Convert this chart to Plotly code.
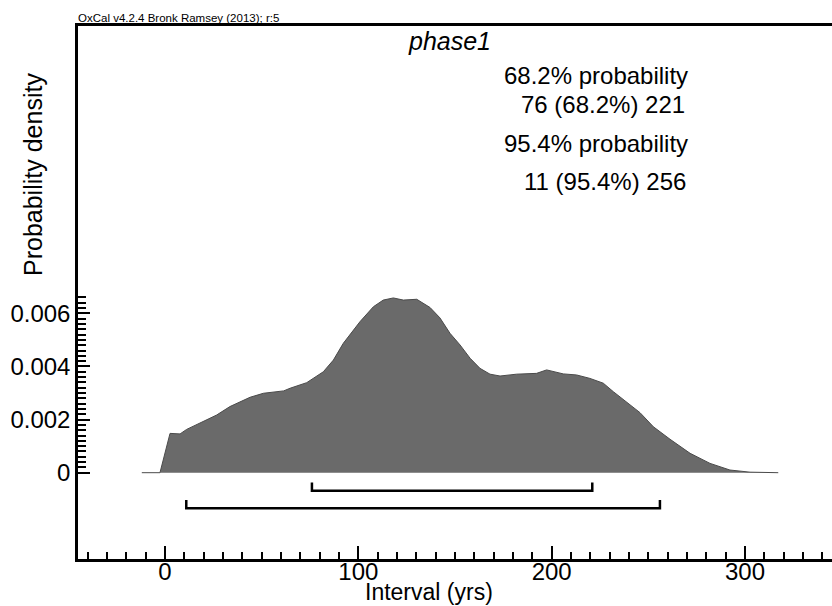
import plotly.graph_objects as go

# Density curve (interval in years, probability density)
interval_yrs = [-12, -2.6, 2.6, 7.8, 11.2, 18.1, 26.7, 33.6, 44, 50.9, 61.4, 64.7, 73.3, 81.9, 87.1,
                92.2, 100.9, 107.8, 112.9, 118.1, 123.3, 130.2, 137.1, 142.2, 147.4, 152.6, 157.8,
                162.9, 168.1, 173.3, 181.9, 192.2, 197.4, 206, 212.9, 219.8, 226.7, 231.9, 238.8,
                245.7, 252.6, 261.2, 271.6, 281.9, 292.2, 302.6, 317.2]
density = [0, 0, 0.00148, 0.00146, 0.00163, 0.00186, 0.00217, 0.00249, 0.00284, 0.00299, 0.00308,
           0.00318, 0.00339, 0.00380, 0.00424, 0.00487, 0.00569, 0.00625, 0.00650, 0.00658, 0.00650,
           0.00653, 0.00622, 0.00583, 0.00525, 0.00481, 0.00431, 0.00393, 0.00371, 0.00364, 0.00371,
           0.00374, 0.00387, 0.00372, 0.00368, 0.00355, 0.00337, 0.00305, 0.00267, 0.00226, 0.00173,
           0.00126, 0.00073, 0.00035, 0.00010, 0.00002, 0]

# Highest posterior density ranges
range_68 = [76, 221]
range_95 = [11, 256]

x_major = [0, 100, 200, 300]
y_major = [0, 0.002, 0.004, 0.006]
y_major_labels = ["0", "0.002", "0.004", "0.006"]
y_minor = [round(i * 0.0002, 6) for i in range(0, 34) if i % 10 != 0]

info_lines = ["68.2% probability", "76 (68.2%) 221", "95.4% probability", "11 (95.4%) 256"]

FONT = "Liberation Sans, Arial, Helvetica, sans-serif"
Y_RANGE = [-0.00325, 0.01682]

fig = go.Figure()
fig.add_trace(go.Scatter(
    x=interval_yrs, y=density, mode="lines", fill="tozeroy",
    line=dict(color="#4a4a4a", width=1), fillcolor="#6a6a6a",
    hoverinfo="skip", showlegend=False))

# brackets (drawn on the overlay axis that carries the minor ticks; same range as y)
for rng, lvl, top in [(range_68, -0.00068, -0.00037), (range_95, -0.00134, -0.00103)]:
    fig.add_trace(go.Scatter(
        x=[rng[0], rng[0], rng[1], rng[1]], y=[top, lvl, lvl, top], mode="lines", yaxis="y2",
        line=dict(color="black", width=2.5), hoverinfo="skip", showlegend=False))

fig.update_layout(
    width=832, height=606,
    margin=dict(l=78, r=0, t=26, b=47),
    plot_bgcolor="white", paper_bgcolor="white",
    font=dict(family=FONT, color="black", size=24),
    xaxis=dict(
        range=[-45, 345], showgrid=False, zeroline=False,
        showline=True, linecolor="black", linewidth=2.5, mirror=True,
        ticks="inside", ticklen=13, tickwidth=2, tickcolor="black",
        tickvals=x_major, ticktext=[str(v) for v in x_major],
        tickfont=dict(size=24, family=FONT), ticklabelstandoff=-11,
        minor=dict(dtick=10, tick0=0, ticks="inside", ticklen=7, tickwidth=2, tickcolor="black"),
    ),
    yaxis=dict(
        range=Y_RANGE, showgrid=False, zeroline=False,
        showline=True, linecolor="black", linewidth=2.5,
        ticks="inside", ticklen=12, tickwidth=2, tickcolor="black",
        tickmode="array", tickvals=y_major, ticktext=y_major_labels,
        tickfont=dict(size=24, family=FONT), ticklabelstandoff=0,
    ),
    yaxis2=dict(
        range=Y_RANGE, overlaying="y", side="left", anchor="x",
        showgrid=False, zeroline=False, showticklabels=False,
        ticks="inside", ticklen=8, tickwidth=2, tickcolor="black",
        tickmode="array", tickvals=y_minor,
    ),
)

W_plot = 832 - 78
H_plot = 606 - 26 - 47


def px(xp):
    return (xp - 78) / W_plot


def py(yp):
    return 1 - (yp - 26) / H_plot


fig.add_annotation(text="OxCal v4.2.4 Bronk Ramsey (2013); r:5", x=0, xref="paper", y=1, yref="paper",
                   xanchor="left", yanchor="bottom", yshift=0, xshift=-2, showarrow=False,
                   font=dict(size=11.5))
fig.add_annotation(text="<i>phase1</i>", xref="paper", yref="paper", x=px(449), y=py(41),
                   xanchor="center", yanchor="middle", showarrow=False, font=dict(size=25))

line_x = [502, 519, 502, 522]
line_y = [75, 104, 143, 181]
for t, lx, ly in zip(info_lines, line_x, line_y):
    fig.add_annotation(text=t, xref="paper", yref="paper", x=px(lx), y=py(ly),
                       xanchor="left", yanchor="middle", showarrow=False, font=dict(size=24))

fig.add_annotation(text="Probability density", xref="paper", yref="paper",
                   x=px(33), y=py(175), xanchor="center", yanchor="middle",
                   textangle=-90, showarrow=False, font=dict(size=25))
fig.add_annotation(text="Interval (yrs)", xref="paper", yref="paper",
                   x=px(429), y=0, yshift=-48, xanchor="center", yanchor="bottom",
                   showarrow=False, font=dict(size=23))

fig.write_html("out.html")
